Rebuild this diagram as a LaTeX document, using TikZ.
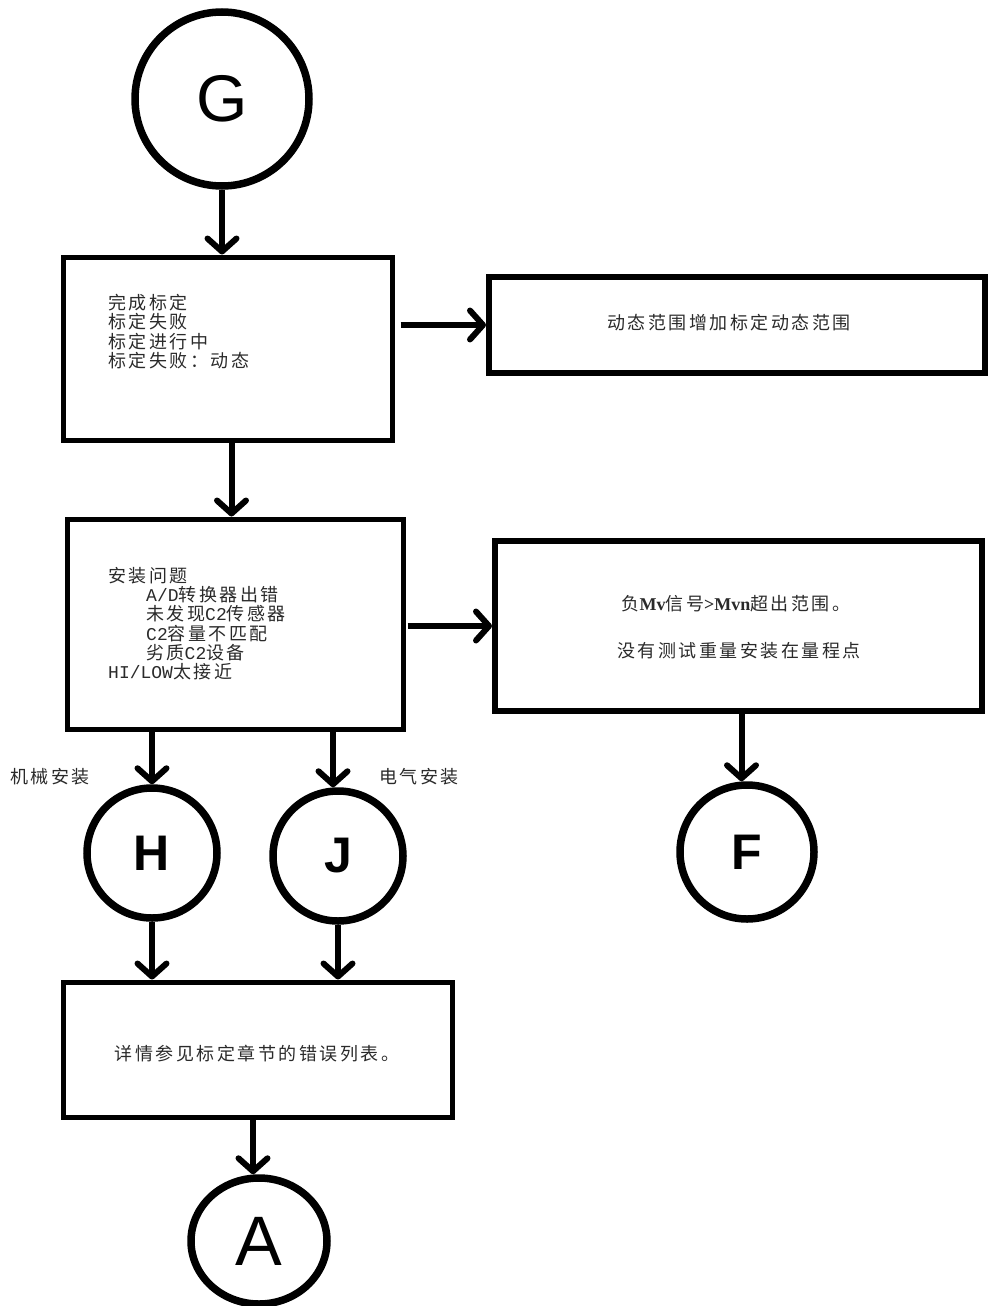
\documentclass[tikz,border=0pt]{standalone}
\usepackage{fontspec}
\setmainfont{Liberation Sans}
\newfontfamily\cjk[LetterSpace=14]{Noto Sans CJK SC}
\newfontfamily\monolat{Liberation Mono}
\newfontfamily\serlat{Liberation Serif}
\usetikzlibrary{arrows.meta,shapes.geometric}
\newcommand{\latm}[1]{{\monolat #1}}
\newcommand{\latb}[1]{{\serlat\bfseries #1}}
\definecolor{txt}{HTML}{2A2A2A}
\begin{document}
\begin{tikzpicture}[x=1pt,y=-1pt,
  box/.style={draw, line width=5pt, rectangle, inner sep=0pt},
  term/.style={draw, line width=7.5pt, circle, inner sep=0pt},
  termE/.style={draw, line width=7.5pt, ellipse, inner sep=0pt},
  txtnode/.style={inner sep=0pt, text=txt, font=\cjk\fontsize{18pt}{19.3pt}\selectfont},
  flow/.style={line width=6pt, -{Straight Barb[length=13pt,width=29pt,round]}},
  bigL/.style={font=\fontsize{66pt}{66pt}\selectfont},
  boldL/.style={font=\bfseries\fontsize{50pt}{50pt}\selectfont}
]
\useasboundingbox (0,0) rectangle (988,1306);

% terminals
\node[term, minimum size=174pt, bigL] (G) at (222,99) {G};
\node[term, minimum size=130pt, boldL] (H) at (152,853) {H};
\node[term, minimum size=130pt, boldL] (J) at (338,856) {J};
\node[term, minimum size=134pt, boldL] (F) at (747,852) {F};
\node[termE, minimum width=136pt, minimum height=126pt, font=\fontsize{70pt}{70pt}\selectfont] (A) at (259,1241) {A};

% boxes
\node[box, minimum width=329pt, minimum height=183pt] (b1) at (227.5,348.5) {};
\node[box, line width=6pt, minimum width=496pt, minimum height=96pt] (b2) at (737,325) {};
\node[box, minimum width=336pt, minimum height=210pt] (b3) at (235,624) {};
\node[box, line width=6pt, minimum width=487pt, minimum height=170pt] (b4) at (738.5,626) {};
\node[box, minimum width=389pt, minimum height=135pt] (b5) at (257.5,1049.5) {};

% texts
\node[txtnode, anchor=north west, align=left] (t1) at (108,294)
  {完成标定\\标定失败\\标定进行中\\标定失败：动态};
\node[txtnode] (t2) at (729,323) {动态范围增加标定动态范围};
\node[txtnode, anchor=north west, align=left] (t3) at (108,567)
  {安装问题\\
   \hspace*{38pt}\latm{A/D}转换器出错\\
   \hspace*{38pt}未发现\latm{C2}传感器\\
   \hspace*{38pt}\latm{C2}容量不匹配\\
   \hspace*{38pt}劣质\latm{C2}设备\\
   \latm{HI/LOW}太接近};
\node[txtnode] (t4a) at (736,604) {负\latb{Mv}信号\latb{>Mvn}超出范围。};
\node[txtnode] (t4b) at (739,651) {没有测试重量安装在量程点};
\node[txtnode] (t5) at (257,1054) {详情参见标定章节的错误列表。};
\node[txtnode] (lh) at (50,777) {机械安装};
\node[txtnode] (lj) at (419,777) {电气安装};

% connectors
\draw[flow] (G.south) -- (G.south |- b1.north);
\draw[flow] ([xshift=6pt]b1.east |- b2.west) -- (b2.west);
\draw[flow] ([xshift=4pt]b1.south) -- ([xshift=4pt]b1.south |- b3.north);
\draw[flow] ([xshift=2pt]b3.east |- b4.west) -- (b4.west);
\draw[flow] ([xshift=3pt]b4.south) -- ([xshift=3pt]b4.south |- F.north);
\draw[flow] (b3.south -| H.north) -- (H.north);
\draw[flow] ([xshift=-5pt]b3.south -| J.north) -- ([xshift=-5pt]J.north);
\draw[flow] (H.south) -- (H.south |- b5.north);
\draw[flow] (J.south) -- (J.south |- b5.north);
\draw[flow] ([xshift=-6pt]b5.south -| A.north) -- ([xshift=-6pt]A.north);
\end{tikzpicture}
\end{document}
